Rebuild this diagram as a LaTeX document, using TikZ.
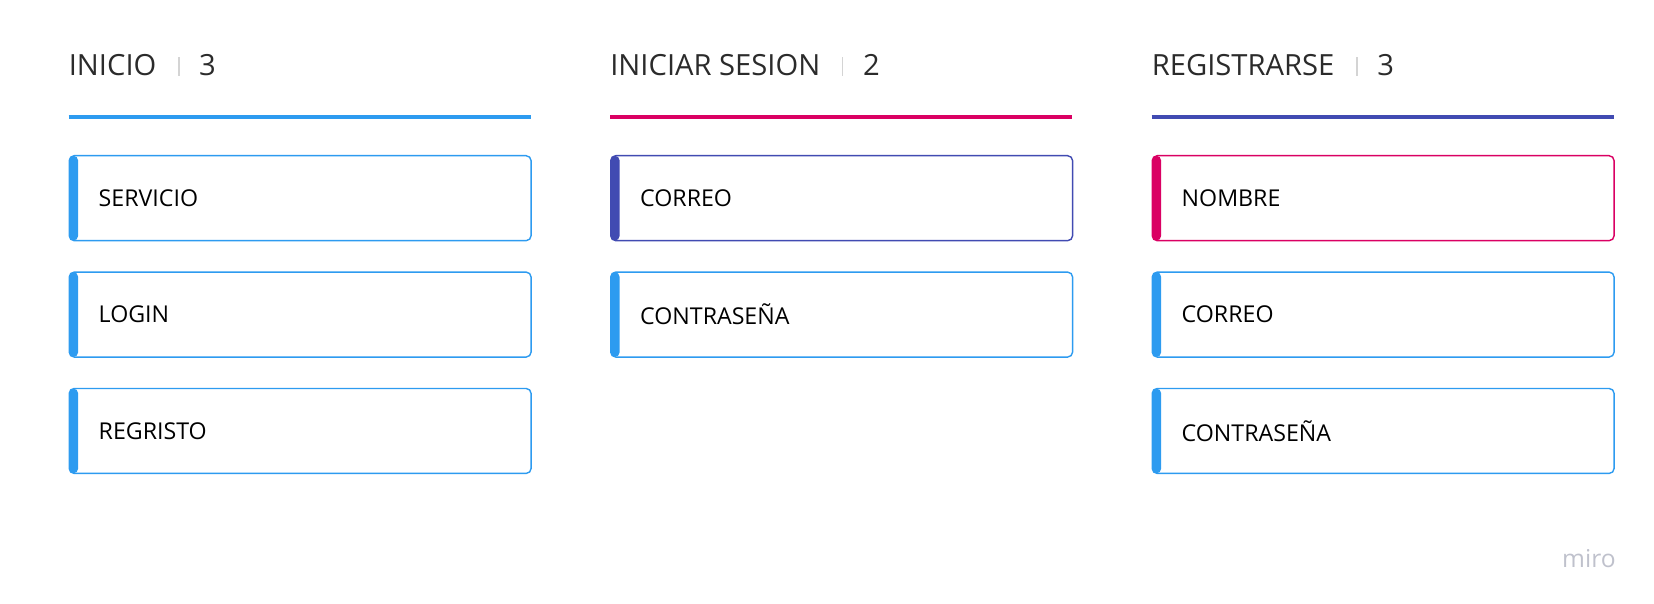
\documentclass[tikz,border=0pt]{standalone}
\usepackage{fontspec}
\setmainfont{Open Sans}
\usetikzlibrary{positioning}

\definecolor{miroblue}{HTML}{2D9BF0}
\definecolor{mirored}{HTML}{DA0063}
\definecolor{miroindigo}{HTML}{414BB2}
\definecolor{headgray}{HTML}{2B2B2B}
\definecolor{sepgray}{HTML}{D4D4D4}
\definecolor{logogray}{HTML}{BFC1CC}

\tikzset{
  colhead/.style={inner sep=0pt, anchor=base west, text=headgray,
    font=\fontsize{16.6}{20}\selectfont},
  sepbar/.style={inner sep=0pt, anchor=south west, fill=sepgray,
    minimum width=0.03cm, minimum height=0.38cm},
  headrule/.style={line width=1.8pt, #1},
  card/.style={draw=#1, line width=0.8pt, fill=white, rounded corners=0.1cm,
    anchor=north west, minimum width=9.24cm, minimum height=1.70cm,
    text width=8.06cm, inner xsep=0.59cm, align=left, text=black,
    font=\fontsize{13.2}{16}\selectfont,
    path picture={\fill[#1] (path picture bounding box.south west)
      rectangle ([xshift=0.18cm]path picture bounding box.north west);}},
}

\begin{document}
\begin{tikzpicture}[x=0.02cm, y=-0.02cm, node distance=0.6cm]
  \useasboundingbox (0,0) rectangle (1654,604);

  % Column headers
  \node[colhead] (inicio) at (68.5,76) {INICIO};
  \node[sepbar] (inicioSep) at ([xshift=0.42cm]inicio.base east) {};
  \node[colhead] (inicioNum) at ([xshift=0.38cm]inicioSep.south east) {3};

  \node[colhead] (sesion) at (610,76) {INICIAR SESION};
  \node[sepbar] (sesionSep) at ([xshift=0.42cm]sesion.base east) {};
  \node[colhead] (sesionNum) at ([xshift=0.38cm]sesionSep.south east) {2};

  \node[colhead] (registro) at (1151.5,76) {REGISTRARSE};
  \node[sepbar] (registroSep) at ([xshift=0.42cm]registro.base east) {};
  \node[colhead] (registroNum) at ([xshift=0.38cm]registroSep.south east) {3};

  % Coloured rules under the headers
  \draw[headrule=miroblue] (68.5,117) -- ++(462,0);
  \draw[headrule=mirored] (610,117) -- ++(462,0);
  \draw[headrule=miroindigo] (1151.5,117) -- ++(462,0);

  % Cards of the first column
  \node[card=miroblue] (servicio) at (68.5,155) {SERVICIO};
  \node[card=miroblue, below=of servicio] (login) {LOGIN};
  \node[card=miroblue, below=of login] (regristo) {REGRISTO};

  % Cards of the second column
  \node[card=miroindigo] (sesCorreo) at (610,155) {CORREO};
  \node[card=miroblue, below=of sesCorreo] (sesClave) {CONTRASEÑA};

  % Cards of the third column
  \node[card=mirored] (regNombre) at (1151.5,155) {NOMBRE};
  \node[card=miroblue, below=of regNombre] (regCorreo) {CORREO};
  \node[card=miroblue, below=of regCorreo] (regClave) {CONTRASEÑA};

  % Logo
  \node[inner sep=0pt, anchor=base east, text=logogray,
    font=\fontsize{14}{17}\selectfont] (logo) at (1616,567) {miro};
\end{tikzpicture}
\end{document}
